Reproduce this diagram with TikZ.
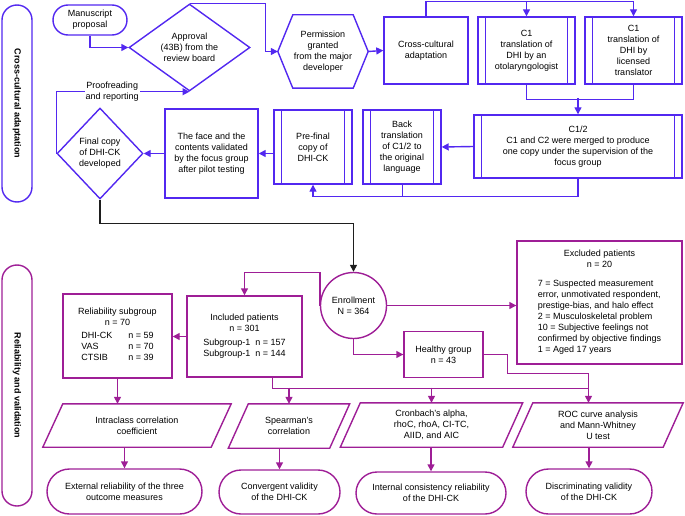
\documentclass[tikz,border=0pt]{standalone}
\usepackage{fontspec}
\setmainfont{Liberation Sans}
\usepackage{tikz}
\usetikzlibrary{arrows.meta,shapes,calc}
\definecolor{azul}{RGB}{82,40,240}
\definecolor{morado}{RGB}{158,30,150}
\definecolor{casiNegro}{RGB}{30,30,30}
\tikzstyle{edge}=[-{Triangle[length=7pt,width=7pt]}, line width=1.4pt]
\tikzstyle{box} =[rectangle, draw, line width=1.4pt, align=center,
                  text=black, inner sep=2pt]
\tikzstyle{term}=[rounded rectangle, draw, line width=1.4pt, align=center,
                  text=black, inner sep=2pt]
\tikzstyle{lane}=[rounded rectangle, draw, line width=1.4pt, text=black,
                  minimum height=30, inner sep=0pt,
                  font=\fontsize{9}{11}\selectfont\bfseries]
\tikzstyle{dec} =[diamond, draw, line width=1.4pt, align=center,
                  text=black, inner sep=0pt]
\tikzstyle{circ}=[circle, draw, line width=1.4pt, align=center,
                  text=black, inner sep=1pt]
\tikzstyle{proc}=[box, append after command={\pgfextra{
                  \draw[azul, line width=1.4pt]
                  ([xshift=8pt]\tikzlastnode.north west) -- ([xshift=8pt]\tikzlastnode.south west)
                  ([xshift=-8pt]\tikzlastnode.north east) -- ([xshift=-8pt]\tikzlastnode.south east);}}]
\tikzstyle{hexa}=[align=center, text=black, inner sep=0pt,
                  minimum width=90, minimum height=73,
                  append after command={\pgfextra{
                  \draw[azul, line width=1.4pt, line join=miter]
                  (\tikzlastnode.west) -- ([xshift=15pt]\tikzlastnode.north west)
                  -- ([xshift=-15pt]\tikzlastnode.north east) -- (\tikzlastnode.east)
                  -- ([xshift=-15pt]\tikzlastnode.south east)
                  -- ([xshift=15pt]\tikzlastnode.south west) -- cycle;}}]
\tikzstyle{para}=[align=center, text=black, inner sep=0pt,
                  append after command={\pgfextra{
                  \draw[morado, line width=1.4pt, line join=miter]
                  ([xshift=10pt]\tikzlastnode.north west) -- ([xshift=10pt]\tikzlastnode.north east)
                  -- ([xshift=-10pt]\tikzlastnode.south east)
                  -- ([xshift=-10pt]\tikzlastnode.south west) -- cycle;}}]

\begin{document}
\begin{tikzpicture}[x=1pt, y=-1pt, font=\fontsize{9}{11}\selectfont]
    \useasboundingbox (0,0) rectangle (685,516);

        % cross-cultural adaptation
        \begin{scope}[azul]
            \draw (17,103.5) node (lane1) [lane, rotate=-90, minimum width=197] {Cross-cultural adaptation};
            \draw (90,20) node (manu) [term, minimum width=78, minimum height=30] {Manuscript\\proposal};
            \draw (189.5,47.5) node (appr) [dec, minimum width=121, minimum height=87] {Approval\\(43B) from the\\review board};
            \draw (323,51.5) node (perm) [hexa] {Permission\\granted\\from the major\\developer};
            \draw (426,50.5) node (cca) [box, minimum width=84, minimum height=67] {Cross-cultural\\adaptation};
            \draw (526.5,50.5) node (c1) [proc, minimum width=97, minimum height=67] {C1\\translation of\\DHI by an\\otolaryngologist};
            \draw (633.5,50.5) node (c2) [proc, minimum width=97, minimum height=67] {C1\\translation of\\DHI by\\licensed\\translator};
            \draw (578,146.5) node (c12) [proc, minimum width=208, minimum height=63] {C1/2\\C1 and C2 were merged to produce\\one copy under the supervision of the\\focus group};
            \draw (402,147) node (back) [proc, minimum width=78, minimum height=74] {Back\\translation\\of C1/2 to\\the original\\language};
            \draw (313,147) node (pre) [proc, minimum width=78, minimum height=74] {Pre-final\\copy of\\DHI-CK};
            \draw (211.5,153.5) node (face) [box, minimum width=93, minimum height=89] {The face and the\\contents validated\\by the focus group\\after pilot testing};
            \draw (100,153.5) node (final) [dec, minimum width=86, minimum height=91] {Final copy\\of DHI-CK\\developed};

            \draw [edge] (manu.south) |- (appr.west);
            \draw [edge] (appr.north) -- ++(76,0) |- (perm.west);
            \draw [edge] (cca.north) -- ++(0,-15) -| (c2.north);
            \draw [edge] ([yshift=15pt]c1.north) -- (c1.north);
            \draw (c1.south) -- ++(0,15) -| (c2.south);
            \draw [edge] ([yshift=16pt]c12.north) -- (c12.north);
            \draw [edge] (c12.south) -- ++(0,18) -| (pre.south);
            \draw (back.south) -- ++(0,12);
            \draw [edge] (pre.west |- face.east) -- (face.east);
            \foreach \i/\j in {perm.east/cca.west, c12.west/back.east, face.west/final.east}
                \draw [edge] (\i) -- (\j);
            \draw [edge] (final.west) |- node[pos=0.71, fill=white, text=black, align=center, inner sep=1pt] {Proofreading\\and reporting} (appr.south);
        \end{scope}

        % reliability and validation
        \begin{scope}[morado]
            \draw (17,385.5) node (lane2) [lane, rotate=-90, minimum width=241] {Reliability and validation};
            \draw (353.5,305.5) node (enroll) [circ, minimum size=66] {Enrollment\\N = 364};
            \draw (599.5,302.5) node (excl) [box, minimum width=165, minimum height=123] {Excluded patients\\n = 20\\[8pt]\begin{tabular}[t]{@{}l@{}}7 = Suspected measurement\\error, unmotivated respondent,\\prestige-bias, and halo effect\\2 = Musculoskeletal problem\\10 = Subjective feelings not\\confirmed by objective findings\\1 = Aged 17 years\end{tabular}};
            \draw (443.5,354.5) node (healthy) [box, minimum width=79, minimum height=46] {Healthy group\\n = 43};
            \draw (244.5,336.5) node (incl) [box, minimum width=115, minimum height=81] {Included patients\\n = 301\\[3pt]\begin{tabular}[t]{@{}l@{\hspace{5pt}}l@{}}Subgroup-1 & n = 157\\Subgroup-1 & n = 144\end{tabular}};
            \draw (117.5,336) node (rel) [box, minimum width=109, minimum height=84] {Reliability subgroup\\n = 70\\[2pt]\begin{tabular}[t]{@{}l@{\hspace{16pt}}l@{}}DHI-CK & n = 59\\VAS & n = 70\\CTSIB & n = 39\end{tabular}};

            \draw (137,425.5) node (icc) [para, minimum width=168, minimum height=43] {Intraclass correlation\\coefficient};
            \draw (289,426) node (spear) [para, minimum width=101, minimum height=44] {Spearman's\\correlation};
            \draw (431.5,425) node (cron) [para, minimum width=162, minimum height=44] {Cronbach's alpha,\\rhoC, rhoA, CI-TC,\\AIID, and AIC};
            \draw (598,425) node (roc) [para, minimum width=150, minimum height=44] {ROC curve analysis\\and Mann-Whitney\\U test};

            \draw (124.5,491.5) node (ext) [term, minimum width=159, minimum height=45] {External reliability of the three\\outcome measures};
            \draw (279.5,492) node (conv) [term, minimum width=125, minimum height=44] {Convergent validity\\of the DHI-CK};
            \draw (431,493) node (intc) [term, minimum width=154, minimum height=42] {Internal consistency reliability\\of the DHI-{\small CK}};
            \draw (589,491.5) node (disc) [term, minimum width=130, minimum height=45] {Discriminating validity\\of the DHI-{\small CK}};

            \draw [edge] (enroll.east) -- (enroll.east -| excl.west);
            \draw [edge] (enroll.south) |- (healthy.west);
            \draw [edge] (enroll.west) -- ++(0,-33) -| (incl.north);
            \draw [edge] (incl.west) -- (incl.west -| rel.east);
            \draw [edge] (rel.south) -- (rel.south |- icc.north);
            \draw ([xshift=28pt]incl.south) -- ++(0,10) -- ++(316,0) coordinate (junc);
            \draw (healthy.east) -- ++(23,0) -- ++(0,19) -| (junc);
            \draw [edge] (junc) -- (junc |- roc.north);
            \foreach \i in {spear, cron}
                \draw [edge] (\i.north |- junc) -- (\i.north);
            \foreach \i/\j in {icc/ext, spear/conv, cron/intc, roc/disc}
                \draw [edge] (\j.north |- \i.south) -- (\j.north);
        \end{scope}

        \draw [edge, casiNegro] (final.south) -- ++(0,24) -| (enroll.north);

    \end{tikzpicture}
\end{document}
